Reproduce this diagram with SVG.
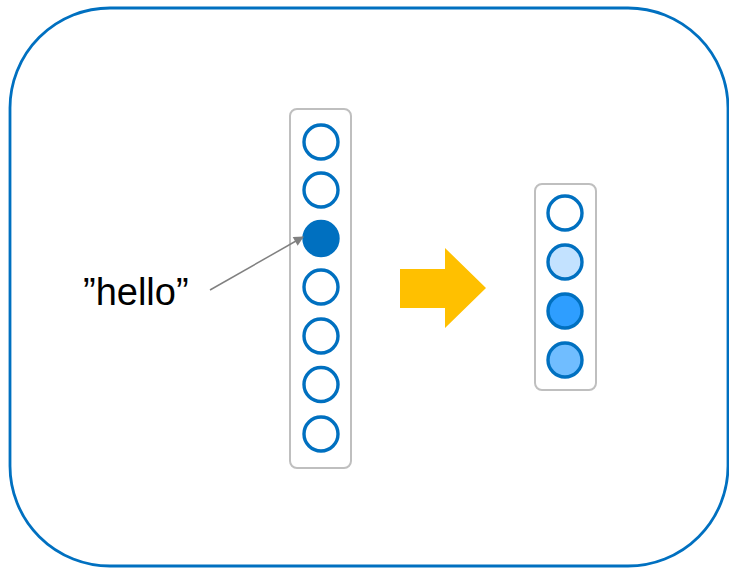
<svg xmlns="http://www.w3.org/2000/svg" width="729" height="568" viewBox="0 0 729 568">
  <style>
    .frame { fill: #FFFFFF; stroke: #0070C0; stroke-width: 2.8; }
    .column { fill: #FFFFFF; stroke: #BFBFBF; stroke-width: 2; }
    .unit { stroke: #0070C0; stroke-width: 3.4; }
    .label { font-family: "Liberation Sans", Arial, sans-serif; font-size: 38px; fill: #000000; }
  </style>
  <defs>
    <marker id="tip" viewBox="0 0 10 10" refX="9" refY="5" markerWidth="11" markerHeight="10" orient="auto" markerUnits="userSpaceOnUse">
      <path d="M0,0 L10,5 L0,10 z" fill="#808080"/>
    </marker>
  </defs>

  <rect class="frame" x="10" y="8" width="718" height="558" rx="100" ry="100"/>

  <!-- one-hot input vector -->
  <g id="onehot">
    <rect class="column" x="290" y="109" width="61" height="359" rx="7" ry="7"/>
    <circle class="unit" cx="321" cy="142" r="17" fill="#FFFFFF"/>
    <circle class="unit" cx="321" cy="190" r="17" fill="#FFFFFF"/>
    <circle class="unit" cx="321" cy="238.5" r="17" fill="#0070C0"/>
    <circle class="unit" cx="321" cy="287" r="17" fill="#FFFFFF"/>
    <circle class="unit" cx="321" cy="336" r="17" fill="#FFFFFF"/>
    <circle class="unit" cx="321" cy="384.5" r="17" fill="#FFFFFF"/>
    <circle class="unit" cx="321" cy="434" r="17" fill="#FFFFFF"/>
  </g>

  <!-- dense embedding vector -->
  <g id="embedding">
    <rect class="column" x="535" y="184" width="61" height="206" rx="7" ry="7"/>
    <circle class="unit" cx="565" cy="213" r="17" fill="#FFFFFF"/>
    <circle class="unit" cx="565" cy="262" r="17" fill="#C3E2FF"/>
    <circle class="unit" cx="565" cy="311" r="17" fill="#2E9EFF"/>
    <circle class="unit" cx="565" cy="360" r="17" fill="#70BDFF"/>
  </g>

  <g id="word">
    <text class="label" x="83" y="305">”hello”</text>
  </g>

  <g id="connectors">
    <line x1="210" y1="290" x2="303" y2="237" stroke="#808080" stroke-width="1.5" marker-end="url(#tip)"/>
    <path d="M400,269 L445,269 L445,248 L486,288 L445,328 L445,308 L400,308 z" fill="#FFC000"/>
  </g>
</svg>
